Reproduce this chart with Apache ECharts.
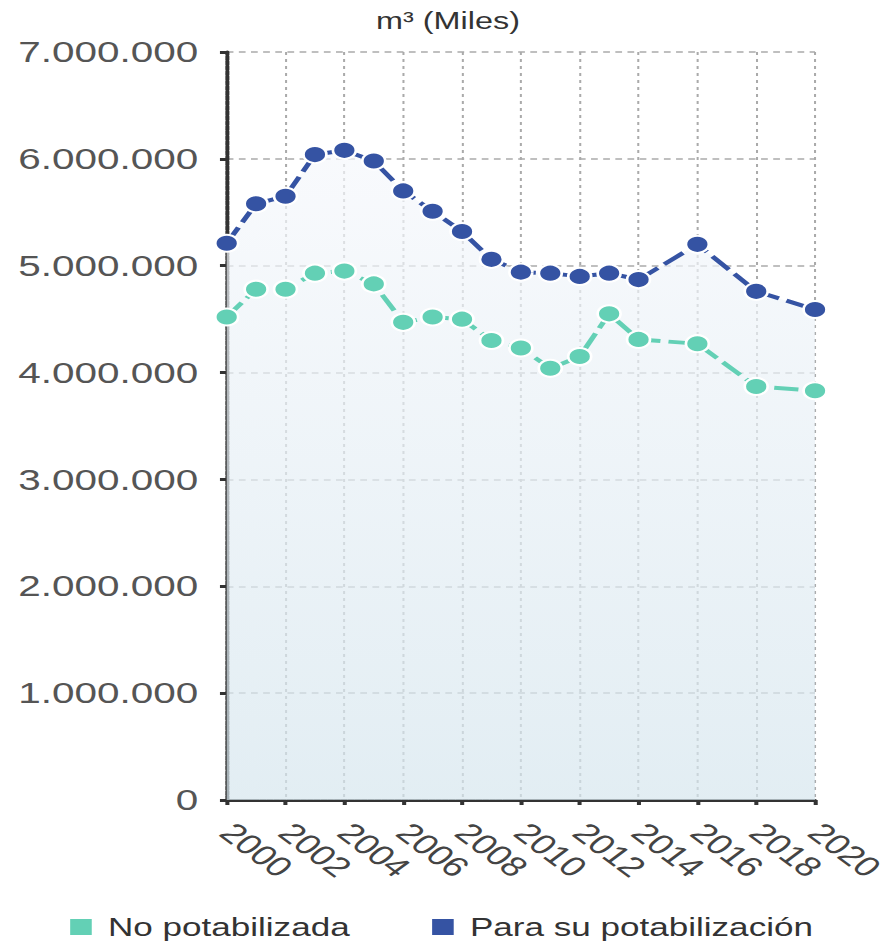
<!DOCTYPE html>
<html><head><meta charset="utf-8">
<script src="https://cdn.jsdelivr.net/npm/echarts@6/dist/echarts.min.js"></script>
<style>
html,body{margin:0;padding:0;background:#fff;overflow:hidden;width:896px;height:942px}
#c{width:664px;height:942px;transform:scaleX(1.3494);transform-origin:0 0}
</style>
</head><body><div id="c"></div>
<script>
const years = [2000,2001,2002,2003,2004,2005,2006,2007,2008,2009,2010,2011,2012,2013,2014,2016,2018,2020];
const paraPotab = [5210000,5580000,5650000,6040000,6080000,5980000,5700000,5510000,5320000,5060000,4940000,4930000,4900000,4930000,4870000,5200000,4760000,4590000];
const noPotab = [4520000,4780000,4780000,4930000,4950000,4830000,4470000,4520000,4500000,4300000,4230000,4040000,4150000,4550000,4310000,4270000,3870000,3830000];
const seriesNames = ['No potabilizada','Para su potabilización'];
const unitTitle = 'm³ (Miles)';

const fmt = v => String(Math.round(v)).replace(/\B(?=(\d{3})+(?!\d))/g, '.');
const chart = echarts.init(document.getElementById('c'), null, {renderer:'svg'});
const font = 'Liberation Sans, Arial, sans-serif';
chart.setOption({
  animation:false,
  title:{text:unitTitle,left:'center',top:4,textStyle:{fontFamily:font,fontSize:24,fontWeight:'normal',color:'#333'}},
  grid:{left:168,right:60,top:52,bottom:142},
  legend:{top:914,left:50,padding:0,itemGap:59,itemWidth:18,itemHeight:18,icon:'rect',
    textStyle:{fontFamily:font,fontSize:26,color:'#333',padding:[0,0,0,6]},data:seriesNames},
  xAxis:{type:'value',min:2000,max:2020,interval:2,
    axisLine:{lineStyle:{color:'#333',width:3,type:[4,1]}},
    axisTick:{show:true,length:5,lineStyle:{color:'#333',width:3}},
    axisLabel:{rotate:-45,fontFamily:font,fontSize:28,color:'#444',margin:28,formatter:v=>String(v)},
    splitLine:{show:true,lineStyle:{color:'#aaa',type:[3,4],width:1.5}}},
  yAxis:{type:'value',min:0,max:7000000,interval:1000000,
    axisLine:{show:true,lineStyle:{color:'#333',width:3,type:[4,1]}},
    axisTick:{show:true,length:5,lineStyle:{color:'#333',width:3}},
    axisLabel:{fontFamily:font,fontSize:30,color:'#555',margin:21,formatter:fmt},
    splitLine:{show:true,lineStyle:{color:'#aaa',type:[5,4],width:1.5}}},
  series:[
    {name:seriesNames[1],type:'line',data:years.map((y,i)=>[y,paraPotab[i]]),
      symbol:'circle',symbolSize:17,itemStyle:{color:'#3553a3',borderColor:'#fff',borderWidth:2},
      lineStyle:{color:'#3553a3',width:4,type:[18,6]},
      areaStyle:{color:new echarts.graphic.LinearGradient(0,0,0,1,[{offset:0,color:'rgba(246,248,252,1)'},{offset:1,color:'rgba(214,230,238,1)'}])},
      z:2},
    {name:seriesNames[0],type:'line',data:years.map((y,i)=>[y,noPotab[i]]),
      symbol:'circle',symbolSize:17,itemStyle:{color:'#63d0b5',borderColor:'#fff',borderWidth:2},
      lineStyle:{color:'#63d0b5',width:4,type:[18,6]},z:3}
  ]
});
</script></body></html>
